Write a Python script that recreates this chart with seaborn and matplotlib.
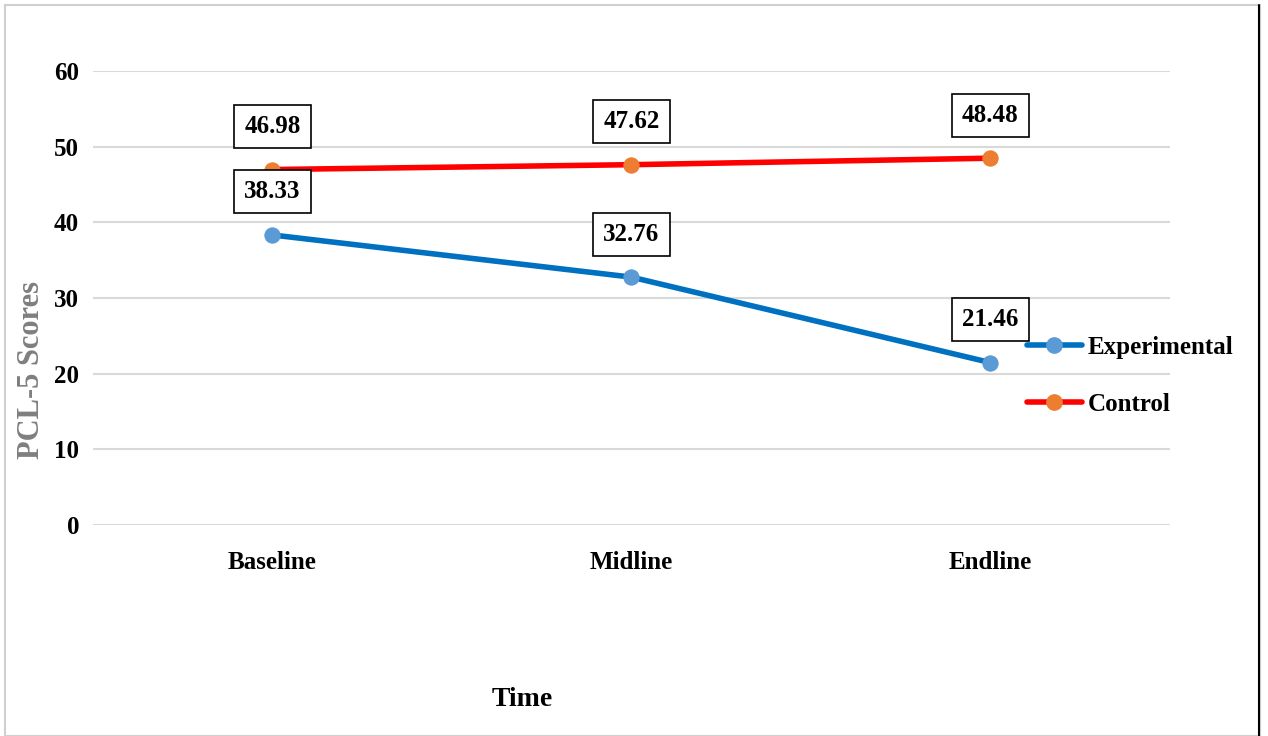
import numpy as np
import pandas as pd
import matplotlib.pyplot as plt
import seaborn as sns
from matplotlib.lines import Line2D
from matplotlib.patches import Rectangle

sns.set_style("white")
plt.rcParams["font.family"] = ["Liberation Serif", "DejaVu Serif"]
plt.rcParams["font.weight"] = "bold"
plt.rcParams["text.color"] = "black"
plt.rcParams["xtick.color"] = "black"
plt.rcParams["ytick.color"] = "black"

times = ["Baseline", "Midline", "Endline"]
experimental = [38.33, 32.76, 21.46]
control = [46.98, 47.62, 48.48]
groups = ["Experimental", "Control"]
line_colors = {"Experimental": "#0070C0", "Control": "#FF0000"}
marker_colors = {"Experimental": "#5B9BD5", "Control": "#ED7D31"}

df = pd.DataFrame({
    "Time": times * 2,
    "Score": experimental + control,
    "Group": ["Experimental"] * 3 + ["Control"] * 3,
})
df["pos"] = df["Time"].map({t: i for i, t in enumerate(times)})

fig = plt.figure(figsize=(12.68, 7.36), dpi=100)
ax = fig.add_axes([0.0733, 0.2867, 0.8494, 0.6168])

sns.lineplot(data=df, x="pos", y="Score", hue="Group", hue_order=groups,
             palette=line_colors, marker="o", markersize=11, linewidth=4,
             ax=ax, legend=False)
for line, g in zip(ax.get_lines(), groups):
    line.set_markerfacecolor(marker_colors[g])
    line.set_markeredgecolor(marker_colors[g])

ax.set_xlim(-0.5, 2.5)
ax.set_ylim(0, 60)
ax.set_yticks(range(0, 61, 10))
ax.set_xticks(range(len(times)))
ax.set_xticklabels(times)
ax.yaxis.grid(True, color="#d9d9d9", linewidth=1.5)
ax.xaxis.grid(False)
for s in ax.spines.values():
    s.set_visible(False)
ax.tick_params(axis="both", length=0, labelsize=18)
ax.tick_params(axis="x", pad=19)
ax.tick_params(axis="y", pad=10)
ax.set_xlabel("")
ax.set_ylabel("")

# data labels in boxes
box = dict(boxstyle="square,pad=0.4", facecolor="white", edgecolor="black", linewidth=1.2)
for vals in (control, experimental):
    for i, v in enumerate(vals):
        ax.annotate(f"{v:.2f}", (i, v), xytext=(0, 31), textcoords="offset points",
                    ha="center", va="center", fontsize=18, fontweight="bold", bbox=box)

fig.text(522 / 1268, 1 - 700 / 736, "Time", ha="center", va="center",
         fontsize=20, fontweight="bold")
fig.text(32 / 1268, 1 - 370 / 736, "PCL-5 Scores", ha="center", va="center",
         rotation=90, fontsize=22, fontweight="bold", color="#7f7f7f")

handles = [Line2D([0], [0], color=line_colors[g], linewidth=4, marker="o", markersize=11,
                  markerfacecolor=marker_colors[g], markeredgecolor=marker_colors[g])
           for g in groups]
fig.legend(handles, groups, loc="center left", bbox_to_anchor=(1004 / 1268, 1 - 376 / 736),
           frameon=False, fontsize=18, handlelength=2.2, labelspacing=1.35, handletextpad=0.25)

# outer frame
fig.patches.append(Rectangle((0.004, 0.0), 0.99, 0.993, transform=fig.transFigure,
                             fill=False, edgecolor="#d0d0d0", linewidth=1.5))
fig.add_artist(Line2D([0.993, 0.993], [0, 0.993], transform=fig.transFigure,
                      color="black", linewidth=1.5))

fig.savefig("out.png", dpi=100)
